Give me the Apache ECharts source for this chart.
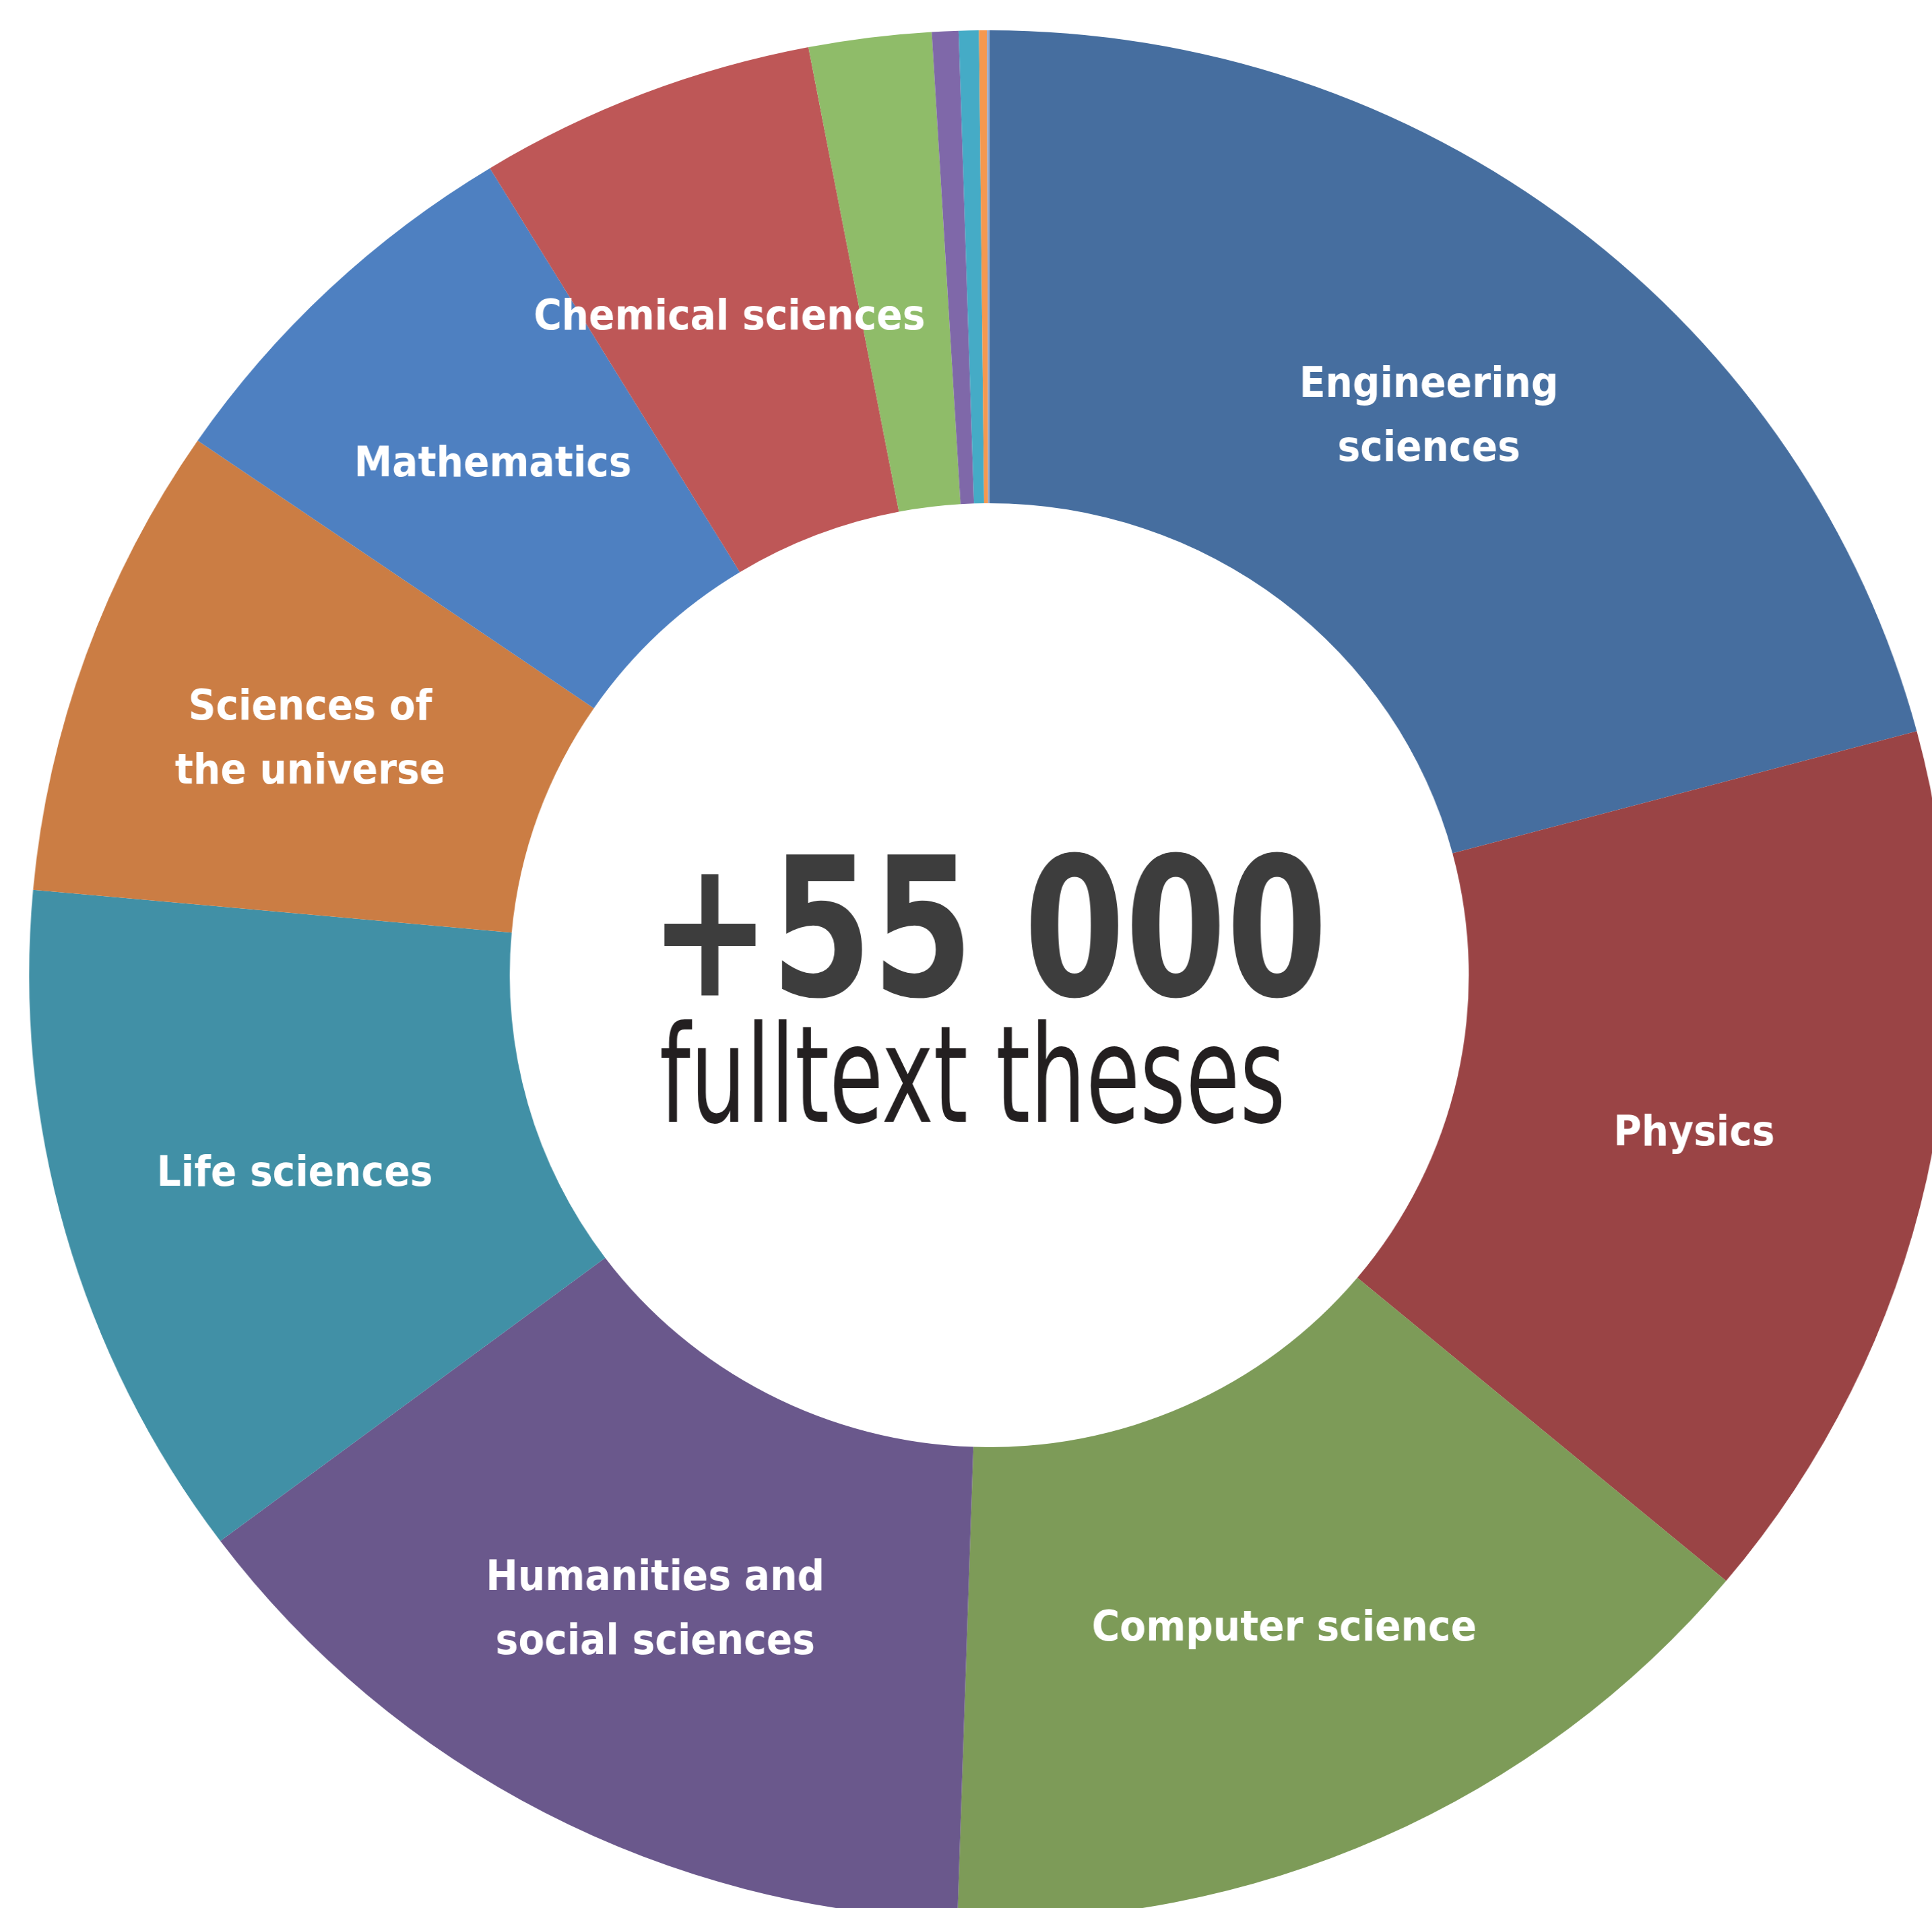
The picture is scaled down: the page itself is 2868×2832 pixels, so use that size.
<!DOCTYPE html>
<html>
<head>
<meta charset="utf-8">
<script src="https://cdn.jsdelivr.net/npm/echarts@6/dist/echarts.min.js"></script>
<style>
  html, body { margin: 0; padding: 0; background: #ffffff; overflow: hidden; }
  #wrap { width: 2868px; height: 2832px; overflow: hidden; position: relative; }
  /* the reference ring is very slightly wider than tall */
  #chart { width: 2868px; height: 2832px; transform-origin: 1468.5px 1447.5px; transform: scale(1.0162, 1); }
</style>
</head>
<body>
<div id="wrap"><div id="chart"></div></div>
<script>
// Domains (HAL theses), clockwise from 12 o'clock
const categories = [
  'Engineering sciences', 'Physics', 'Computer science', 'Humanities and social sciences',
  'Life sciences', 'Sciences of the universe', 'Mathematics', 'Chemical sciences',
  'Cognitive science', 'Environmental sciences', 'Statistics', 'Nonlinear sciences', 'Quantitative finance'
];
const labelTexts = [
  'Engineering\nsciences', 'Physics', 'Computer science', 'Humanities and\nsocial sciences',
  'Life sciences', 'Sciences of\nthe universe', 'Mathematics', 'Chemical sciences',
  '', '', '', '', ''
];
const values = [11463, 8378, 7949, 7840, 6411, 4473, 3697, 3129, 1134, 246, 185, 73, 21];
const colors = [
  '#466E9F', '#9A4445', '#7D9B58', '#6A588C', '#4190A6', '#CB7D44', '#4E80C1',
  '#BE5757', '#8FBC69', '#7F68A9', '#45ABC6', '#F5984F', '#94AACF'
];
const centerTitle = '+55 000';
const centerSubtitle = 'fulltext theses';

const FONT = "'Liberation Sans Narrow', 'DejaVu Sans Condensed', 'Arial Narrow', sans-serif";
const STRETCH = 1.0162;

function inkScale(text, font, targetWidth) {
  const c = document.createElement('canvas').getContext('2d');
  c.font = font;
  const m = c.measureText(text);
  const w = (m.actualBoundingBoxLeft || 0) + (m.actualBoundingBoxRight || m.width);
  return targetWidth / w / STRETCH;
}

const titleSize = 287, subSize = 200;
const titleScale = inkScale(centerTitle, 'bold ' + titleSize + 'px ' + FONT, 977);
const subScale = inkScale(centerSubtitle, 'normal ' + subSize + 'px ' + FONT, 920);

const data = categories.map((name, i) => ({
  name: name,
  value: values[i],
  itemStyle: { color: colors[i] },
  label: { show: labelTexts[i] !== '', formatter: labelTexts[i] }
}));

const chart = echarts.init(document.getElementById('chart'), null, { renderer: 'canvas' });
chart.setOption({
  animation: false,
  backgroundColor: '#ffffff',
  series: [{
    type: 'pie',
    center: [1468.5, 1447.5],
    radius: [700.5, 1402.5],
    startAngle: 90,
    clockwise: true,
    avoidLabelOverlap: false,
    silent: true,
    itemStyle: { borderWidth: 0 },
    label: {
      position: 'inside',
      color: '#ffffff',
      fontFamily: FONT,
      fontWeight: 'bold',
      fontSize: 62,
      lineHeight: 95,
      align: 'center'
    },
    labelLayout: { dy: 9 },
    labelLine: { show: false },
    data: data
  }],
  graphic: [
    {
      type: 'text',
      x: 1467, y: 1403,
      scaleX: titleScale,
      style: {
        text: centerTitle,
        fill: '#3D3D3D',
        font: 'bold ' + titleSize + 'px ' + FONT,
        textAlign: 'center',
        textVerticalAlign: 'middle'
      }
    },
    {
      type: 'text',
      x: 1444, y: 1613,
      scaleX: subScale,
      style: {
        text: centerSubtitle,
        fill: '#231F20',
        font: 'normal ' + subSize + 'px ' + FONT,
        textAlign: 'center',
        textVerticalAlign: 'middle'
      }
    }
  ]
});
</script>
</body>
</html>
